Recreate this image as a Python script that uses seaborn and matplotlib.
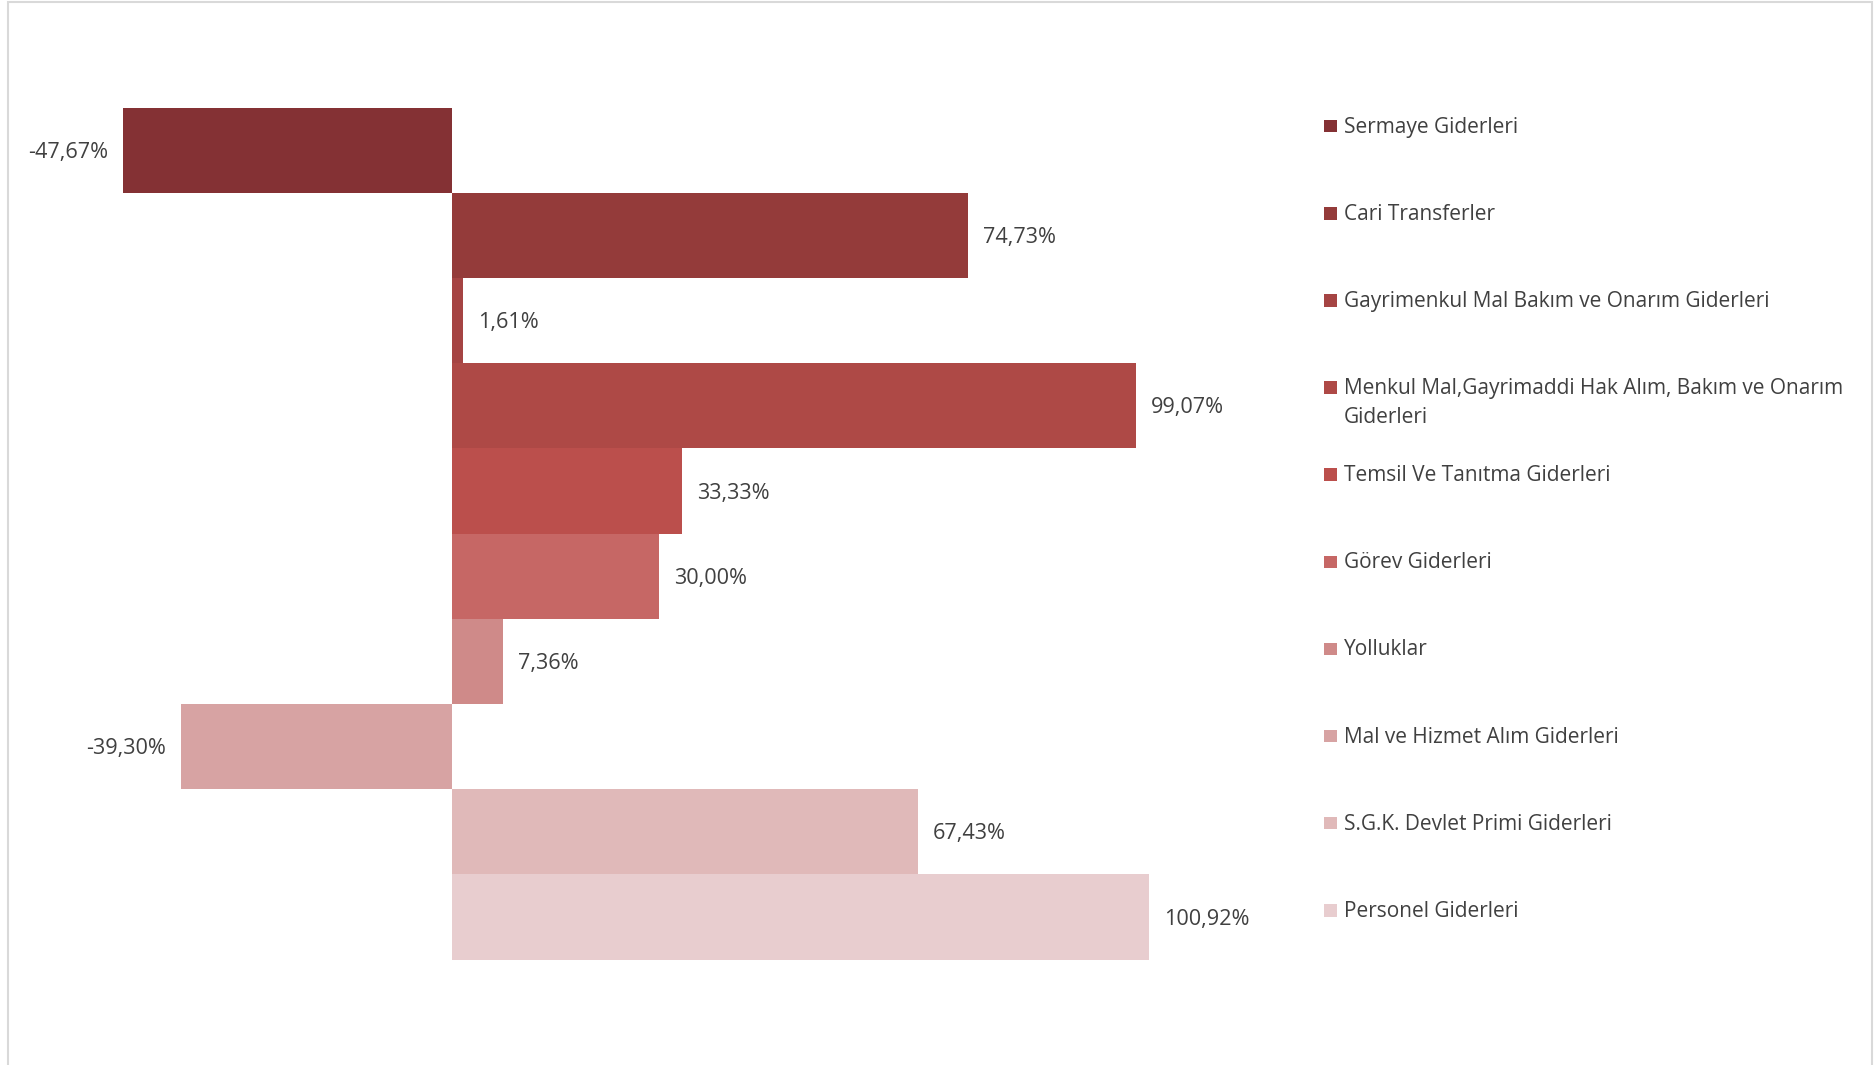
import matplotlib
matplotlib.use("Agg")
import matplotlib.pyplot as plt
import seaborn as sns
import pandas as pd
from matplotlib.patches import Rectangle

# ---- data ----
categories = [
    "Sermaye Giderleri",
    "Cari Transferler",
    "Gayrimenkul Mal Bakım ve Onarım Giderleri",
    "Menkul Mal,Gayrimaddi Hak Alım, Bakım ve Onarım Giderleri",
    "Temsil Ve Tanıtma Giderleri",
    "Görev Giderleri",
    "Yolluklar",
    "Mal ve Hizmet Alım Giderleri",
    "S.G.K. Devlet Primi Giderleri",
    "Personel Giderleri",
]
values = [-47.67, 74.73, 1.61, 99.07, 33.33, 30.00, 7.36, -39.30, 67.43, 100.92]
legend_labels = [
    "Sermaye Giderleri",
    "Cari Transferler",
    "Gayrimenkul Mal Bakım ve Onarım Giderleri",
    "Menkul Mal,Gayrimaddi Hak Alım, Bakım ve Onarım\nGiderleri",
    "Temsil Ve Tanıtma Giderleri",
    "Görev Giderleri",
    "Yolluklar",
    "Mal ve Hizmet Alım Giderleri",
    "S.G.K. Devlet Primi Giderleri",
    "Personel Giderleri",
]
colors = ["#843134", "#943B3A", "#A54443", "#AE4946", "#BB4F4C",
          "#C66765", "#CF8A89", "#D7A3A3", "#E0B9B9", "#E8CDCF"]

# ---- style ----
sns.set_theme(style="white")
plt.rcParams['font.family'] = ['Open Sans', 'DejaVu Sans']
text_color = "#404040"

fig = plt.figure(figsize=(18.76, 10.65), dpi=100)
fig.patch.set_facecolor("white")

zero_frac = 0.2411
per_pct = 0.003681
xmin, xmax = -60, 120
ax_left = zero_frac + xmin * per_pct
ax_width = (xmax - xmin) * per_pct
ax = fig.add_axes([ax_left, 0.0989, ax_width, 0.8989 - 0.0989])

df = pd.DataFrame({"Kategori": categories, "Değer": values})
sns.barplot(data=df, y="Kategori", x="Değer", hue="Kategori",
            order=categories, hue_order=categories, palette=colors,
            dodge=False, width=1.0, saturation=1, legend=False,
            linewidth=0, ax=ax)
ax.set_xlim(xmin, xmax)
ax.set_ylim(len(categories) - 0.5, -0.5)
ax.axis("off")

for i, v in enumerate(values):
    lbl = f"{v:.2f}%".replace(".", ",")
    if v >= 0:
        ax.annotate(lbl, (v, i), xytext=(10.5, -1.5), textcoords="offset points",
                    ha="left", va="center", fontsize=15.6, color=text_color)
    else:
        ax.annotate(lbl, (v, i), xytext=(-10.5, -1.5), textcoords="offset points",
                    ha="right", va="center", fontsize=15.6, color=text_color)

# ---- legend (manual, fixed slots) ----
row0 = 1 - 105.5 / 890
row_step = 72.8 / 890
line_gap = 24.5 / 890
sq_w = 12.5 / 1876
sq_h = 12.5 / 1065
for i, (lab, col) in enumerate(zip(legend_labels, colors)):
    y = row0 - i * row_step
    fig.patches.append(Rectangle((0.706, y - sq_h / 2), sq_w, sq_h,
                                 transform=fig.transFigure, facecolor=col,
                                 edgecolor="none"))
    for k, line in enumerate(lab.split("\n")):
        fig.text(0.7162, y - k * line_gap - 0.001, line, ha="left", va="center",
                 fontsize=15, color=text_color)

# chart border
fig.patches.append(Rectangle((0.0045, -0.01), 0.9935, 1.0078,
                             transform=fig.transFigure, facecolor="none",
                             edgecolor="#D9D9D9", linewidth=1.5))

fig.savefig("out.png", dpi=100)
